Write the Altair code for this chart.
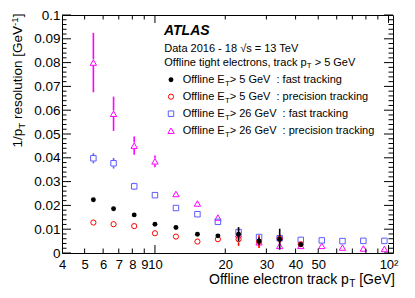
import altair as alt
import pandas as pd
import numpy as np

FONT = "Liberation Sans"

# ---------------- data ----------------
pt = [5.45, 6.65, 8.15, 10.0, 12.3, 15.2, 18.6, 22.8, 27.9, 34.2, 42.1, 51.8, 63.5, 78.0, 96.0]

fast5 = [0.0224, 0.0186, 0.0160, 0.0121, 0.0107, 0.0079, 0.0072, 0.0079, 0.0050, 0.0058, 0.0035]
fast5_err = [0.0004, 0.0004, 0.0004, 0.0003, 0.0003, 0.0003, 0.0004, 0.0030, 0.0015, 0.0044, 0.0010]
prec5 = [0.0128, 0.0121, 0.0113, 0.0083, 0.0069, 0.0048, 0.0058, 0.0058, 0.0048, 0.0060, 0.0037]
prec5_err = [0.0003, 0.0003, 0.0003, 0.0003, 0.0003, 0.0003, 0.0005, 0.0028, 0.0027, 0.0018, 0.0010]
fast26 = [0.0398, 0.0377, 0.0280, 0.0243, 0.0189, 0.0163, 0.0131, 0.0088, 0.0067, 0.0062, 0.0055,
          0.0053, 0.0050, 0.0051, 0.0051]
fast26_err = [0.0021, 0.0022, 0.0015, 0.0005, 0.0005, 0.0004, 0.0004, 0.0012, 0.0008, 0.0006, 0.0004,
              0.0003, 0.0003, 0.0003, 0.0003]
prec26 = [0.0800, 0.0585, 0.0451, 0.0385, 0.0248, 0.0208, 0.0149, 0.0079, 0.0045, 0.0030, 0.0030,
          0.0030, 0.0023, 0.0019, 0.0017]
prec26_err = [0.0125, 0.0072, 0.0038, 0.0025, 0.0008, 0.0007, 0.0006, 0.0025, 0.0015, 0.0010, 0.0008,
              0.0005, 0.0005, 0.0005, 0.0005]

x_label_values = [4, 5, 6, 7, 8, 9, 10, 20, 30, 40, 50, 100]
x_tick_values = [5, 6, 7, 8, 9, 10, 20, 30, 40, 50, 60, 70, 80, 90, 100]
x_major_ticks = [10, 100]
y_major = [0, 0.01, 0.02, 0.03, 0.04, 0.05, 0.06, 0.07, 0.08, 0.09, 0.1]
y_minor = [round(v, 3) for v in np.arange(0.002, 0.1, 0.002) if round(v * 1000) % 10 != 0]

# ---------------- layout ----------------
W, H = 331, 238
xscale = alt.Scale(type="log", domain=[4, 104.5], nice=False, zero=False)
yscale = alt.Scale(domain=[0, 0.1], nice=False, zero=False)

xaxis = alt.Axis(values=x_label_values, ticks=False, tickSize=0, domain=False, grid=False,
                 labelPadding=5, labelFont=FONT, labelFontSize=13, labelColor="black",
                 labelOverlap=False, labelFlush=False, title=None,
                 labelExpr="datum.value == 100 ? '10\u00b2' : '' + datum.value")
yaxis = alt.Axis(values=y_major, ticks=False, tickSize=0, domain=False, grid=False,
                 labelPadding=2, labelFont=FONT, labelFontSize=13.5, labelColor="black",
                 labelOverlap=False, format="~g", title=None)

GAP = 3.2 * 0.1 / H  # marker half-height in data units (error bar stops at the marker edge)


def series_layers(vals, errs, color, shape, filled, size, open_marker):
    n = len(vals)
    df = pd.DataFrame({"pt": pt[:n], "val": vals})
    segs = []
    for x, v, e in zip(pt[:n], vals, errs):
        g = GAP if open_marker else 0.0
        if e > g:
            segs.append({"pt": x, "val": v - e, "hi": v - g})
            segs.append({"pt": x, "val": v + g, "hi": v + e})
    seg = pd.DataFrame(segs)
    err = alt.Chart(seg).mark_rule(color=color, strokeWidth=1.6).encode(
        x=alt.X("pt:Q", scale=xscale, axis=xaxis),
        y=alt.Y("val:Q", scale=yscale, axis=yaxis),
        y2="hi:Q",
    )
    pts = alt.Chart(df).mark_point(shape=shape, filled=filled, color=color, size=size,
                                   strokeWidth=1, opacity=1).encode(
        x=alt.X("pt:Q", scale=xscale, axis=xaxis),
        y=alt.Y("val:Q", scale=yscale, axis=yaxis),
    )
    return [err, pts]


BLUE = "#5c5cff"
MAG = "#ff00ff"
RED = "#ff0000"

layers = []
layers += series_layers(prec26, prec26_err, MAG, "triangle-up", False, 40, True)
layers += series_layers(fast26, fast26_err, BLUE, "square", False, 30, True)
layers += series_layers(prec5, prec5_err, RED, "circle", False, 27, True)
layers += series_layers(fast5, fast5_err, "black", "circle", True, 24, False)

# ---------------- inward ticks (ROOT style frame) ----------------
def yticks(vals, length):
    d = pd.DataFrame({"val": vals})
    left = alt.Chart(d).mark_rule(color="black", strokeWidth=1).encode(
        y=alt.Y("val:Q", scale=yscale, axis=yaxis), x=alt.value(0), x2=alt.value(length))
    right = alt.Chart(d).mark_rule(color="black", strokeWidth=1).encode(
        y=alt.Y("val:Q", scale=yscale, axis=yaxis), x=alt.value(W - length), x2=alt.value(W))
    return [left, right]


def xticks(vals, length):
    d = pd.DataFrame({"pt": vals})
    bottom = alt.Chart(d).mark_rule(color="black", strokeWidth=1).encode(
        x=alt.X("pt:Q", scale=xscale, axis=xaxis), y=alt.value(H - length), y2=alt.value(H))
    top = alt.Chart(d).mark_rule(color="black", strokeWidth=1).encode(
        x=alt.X("pt:Q", scale=xscale, axis=xaxis), y=alt.value(0), y2=alt.value(length))
    return [bottom, top]


layers += yticks(y_major, 9) + yticks(y_minor, 4.5)
layers += xticks([v for v in x_tick_values if v not in x_major_ticks], 4.5)
layers += xticks(x_major_ticks, 8)

# ---------------- rich text helper ----------------
AW = {" ": 278, "/": 278, ",": 278, ".": 278, ":": 278, "-": 333, "=": 584, ">": 584,
      "[": 278, "]": 278, "\u221a": 549,
      "0": 556, "1": 556, "2": 556, "3": 556, "4": 556, "5": 556, "6": 556, "7": 556, "8": 556, "9": 556,
      "A": 667, "D": 722, "E": 667, "G": 778, "L": 556, "O": 778, "S": 667, "T": 611, "V": 667,
      "a": 556, "c": 500, "e": 556, "f": 278, "g": 556, "h": 556, "i": 222, "k": 500, "l": 222,
      "n": 556, "o": 556, "p": 556, "r": 333, "s": 500, "t": 278, "u": 556}


def tw(s, size):
    return sum(AW.get(c, 556) for c in s) / 1000.0 * size


def rich(segs, x, y, size, align="left", angle=0, color="black", sup=0.36):
    pieces, off = [], 0.0
    for text, kind in segs:
        fs = size * 0.72 if kind != "n" else size
        dy = size * 0.22 if kind == "sub" else (-size * sup if kind == "sup" else 0)
        lead = len(text) - len(text.lstrip(" "))
        off += tw(" " * lead, fs)
        t = text.strip(" ")
        pieces.append((t, fs, off, dy))
        off += tw(t, fs)
    shift = -off if align == "right" else 0.0
    out = []
    for t, fs, o, dy in pieces:
        out.append(alt.Chart(pd.DataFrame({"t": [t]})).mark_text(
            align="left", baseline="alphabetic", font=FONT, fontSize=fs,
            dx=o + shift, dy=dy, angle=angle, color=color).encode(
            x=alt.value(x), y=alt.value(y), text="t:N"))
    return out


# axis titles
layers += rich([("Offline electron track p", "n"), ("T", "sub"), (" [GeV]", "n")],
               333, 269, 14, align="right")
layers += rich([("1/p", "n"), ("T", "sub"), (" resolution [GeV", "n"), ("-1", "sup"), ("]", "n")],
               -40, -1.5, 13.5, align="right", angle=270, sup=0.32)

# header texts
layers.append(alt.Chart(pd.DataFrame({"t": ["ATLAS"]})).mark_text(
    align="left", baseline="alphabetic", font=FONT, fontSize=14, fontWeight="bold",
    fontStyle="italic", color="black").encode(x=alt.value(102), y=alt.value(20), text="t:N"))
layers += rich([("Data 2016 - 18 \u221as = 13 TeV", "n")], 102.3, 36.7, 11)
layers += rich([("Offline tight electrons, track p", "n"), ("T", "sub"), (" > 5 GeV", "n")],
               102.3, 50.7, 11)

# legend entries
legend_rows = [
    ("> 5 GeV", "  : fast tracking", "black", "circle", True, 24),
    ("> 5 GeV", "  : precision tracking", RED, "circle", False, 27),
    ("> 26 GeV", "  : fast tracking", BLUE, "square", False, 30),
    ("> 26 GeV", "  : precision tracking", MAG, "triangle-up", False, 40),
]
row_base = [68.3, 85.3, 102.3, 119.3]
for (cut, label, col, shp, fil, sz), yb in zip(legend_rows, row_base):
    layers += rich([("Offline E", "n"), ("T", "sub"), (cut, "n"), (label, "n")], 120.7, yb, 11)
    layers.append(alt.Chart(pd.DataFrame({"a": [0]})).mark_point(
        shape=shp, filled=fil, color=col, size=sz, strokeWidth=1, opacity=1).encode(
        x=alt.value(109), y=alt.value(yb - 3.6)))

chart = alt.layer(*layers).properties(
    width=W, height=H,
    padding={"left": 54, "top": 7, "right": 14, "bottom": 40},
    autosize=alt.AutoSizeParams(type="none"),
    background="white",
).configure_view(stroke="black", strokeWidth=1)

chart.save("out.html", embed_options={"renderer": "svg", "actions": False})
